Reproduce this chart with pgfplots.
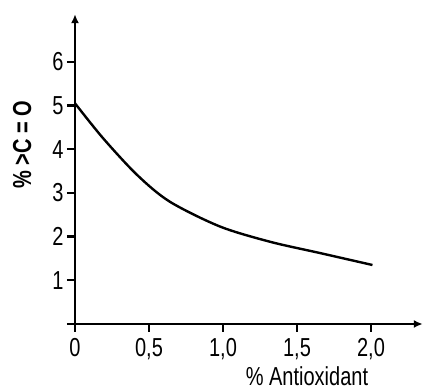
\documentclass[border=0pt]{standalone}
\usepackage{pgfplots}
\pgfplotsset{compat=1.18}
\usetikzlibrary{arrows.meta}
\usepackage{graphicx}
\usepackage{fontspec}
\setmainfont{Liberation Sans}
\newcommand\tl[1]{\scalebox{1}[1.3]{#1}}
\begin{document}
\begin{tikzpicture}
\path[use as bounding box] (-75pt,-66pt) rectangle (349pt,324pt);
\begin{axis}[
  anchor=origin, at={(0pt,0pt)},
  x=148pt, y=43.7pt,
  xmin=0, xmax=2.35, ymin=0, ymax=7.09,
  axis lines=left,
  axis line style={line width=2.6pt, -{Latex[length=9pt,width=8pt]}},
  tick style={line width=2.2pt, black},
  major tick length=8pt,
  tick align=outside,
  xtick={0,0.5,1,1.5,2}, xticklabels={\tl{0},\tl{0,5},\tl{1,0},\tl{1,5},\tl{2,0}},
  ytick={0,1,2,3,4,5,6}, yticklabels={,\tl{1},\tl{2},\tl{3},\tl{4},\tl{5},\tl{6}},
  ticklabel style={font=\fontsize{20}{24}\selectfont},
  xticklabel style={yshift=-3pt},
  xlabel={\tl{\% Antioxidant}},
  xlabel style={font=\fontsize{20}{24}\selectfont, at={(axis description cs:0.667,-0.168)}, anchor=center},
  ylabel={\tl{\bfseries\% >C = O}},
  ylabel style={font=\fontsize{20}{24}\selectfont, at={(axis description cs:-0.152,0.578)}, anchor=center},
  clip=false,
]
\addplot[black, line width=2.4pt, smooth, tension=0.5] coordinates {
(0,5.05) (0.19,4.25) (0.42,3.41) (0.64,2.80) (0.98,2.23) (1.32,1.88) (1.66,1.62) (2.01,1.35)
};
\end{axis}
\end{tikzpicture}
\end{document}
